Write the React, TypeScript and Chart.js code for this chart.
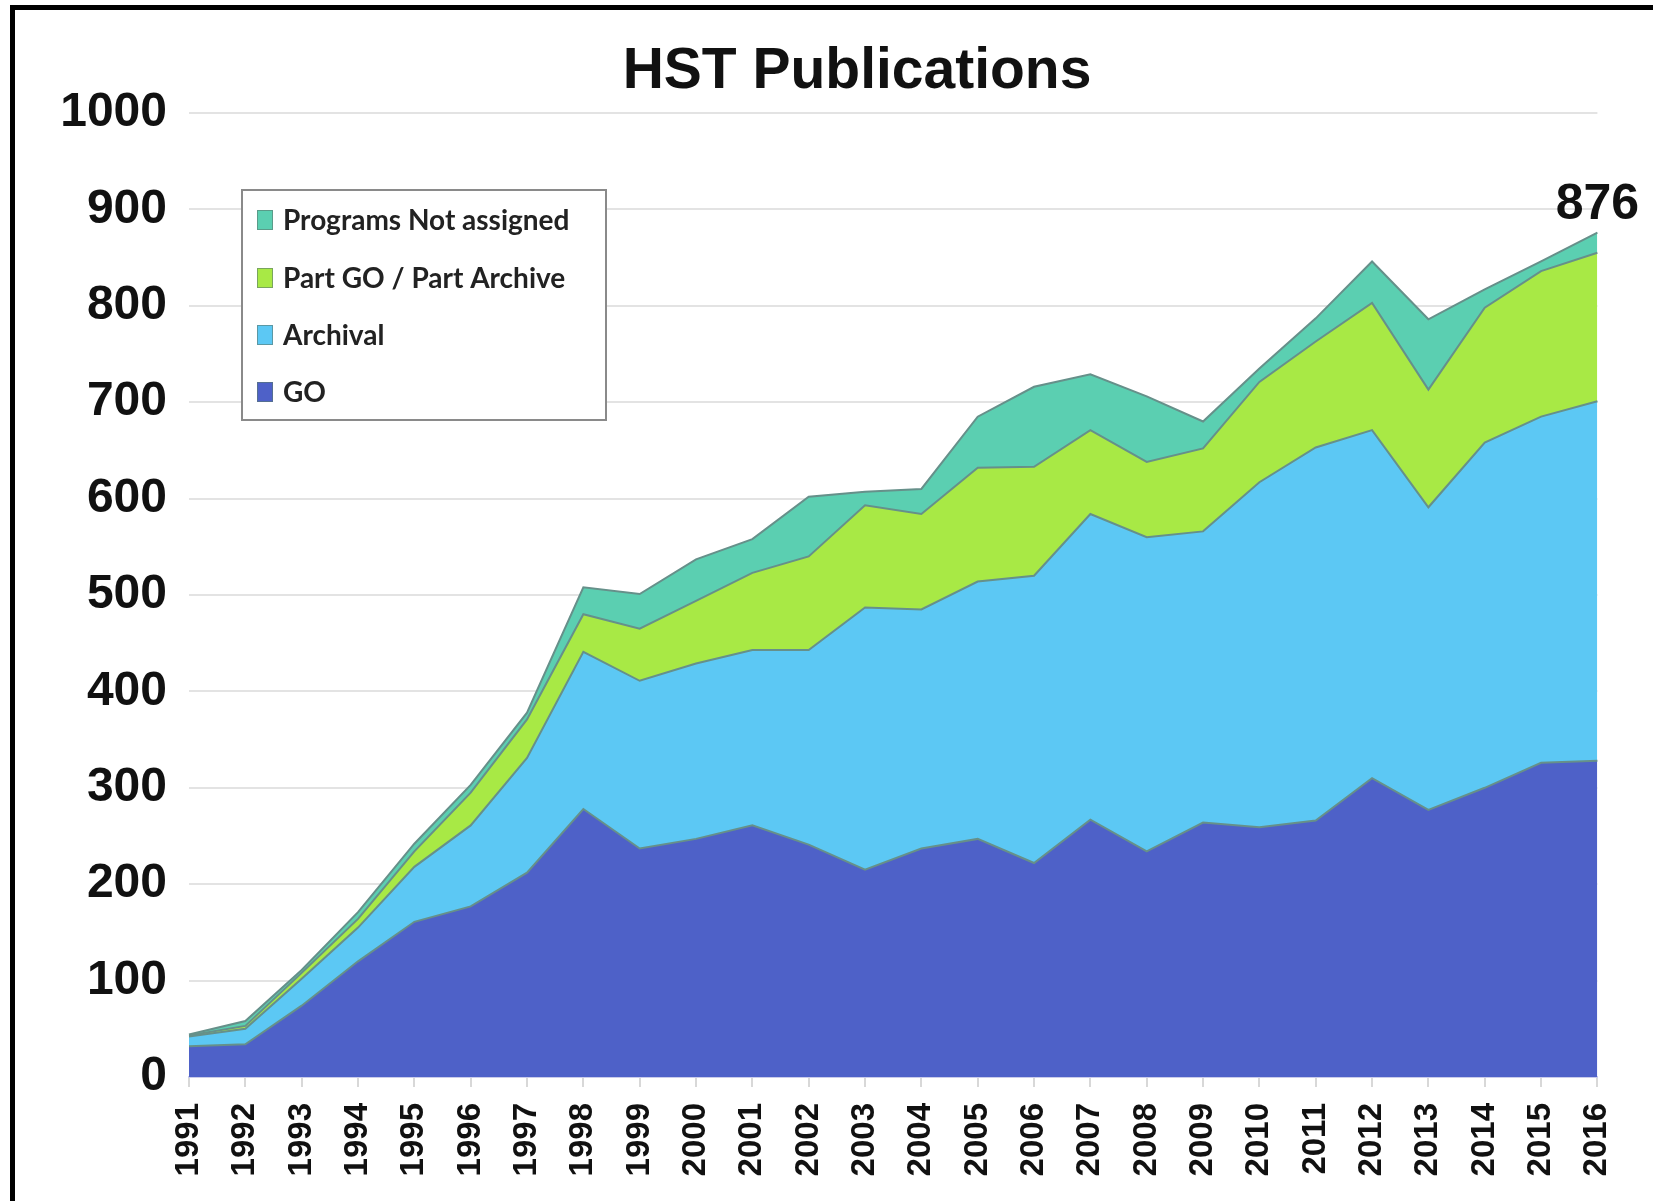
import React, { useEffect, useRef } from 'react';
import { Chart, registerables } from 'chart.js';

Chart.register(...registerables);

const YEARS = ['1991', '1992', '1993', '1994', '1995', '1996', '1997', '1998', '1999', '2000', '2001', '2002', '2003', '2004', '2005', '2006', '2007', '2008', '2009', '2010', '2011', '2012', '2013', '2014', '2015', '2016'];
const GO = [32, 34, 74, 120, 161, 177, 212, 278, 237, 247, 261, 241, 215, 237, 247, 222, 267, 234, 264, 259, 266, 310, 277, 300, 326, 328];
const ARCHIVAL = [10, 16, 28, 35, 57, 84, 119, 163, 174, 182, 182, 202, 272, 248, 267, 298, 317, 326, 302, 358, 387, 361, 314, 358, 359, 373];
const PART_GO_ARCHIVE = [1, 3, 6, 9, 16, 34, 40, 39, 54, 65, 80, 97, 106, 99, 118, 113, 87, 78, 86, 104, 110, 132, 122, 140, 151, 154];
const NOT_ASSIGNED = [1, 5, 3, 7, 8, 8, 7, 28, 36, 43, 35, 62, 14, 26, 53, 83, 58, 68, 28, 14, 24, 43, 73, 19, 10, 21];

const SERIES_LABELS = ['GO', 'Archival', 'Part GO / Part Archive', 'Programs Not assigned'];
const SERIES_COLORS = ['#4E61C8', '#5CC8F4', '#A8E945', '#5BCFB1'];
const Y_MIN = 0;
const Y_MAX = 1000;
const Y_STEP = 100;
const TITLE = 'HST Publications';

const AXIS_FONT = '"Liberation Sans", Arial, Helvetica, sans-serif';
const LEGEND_FONT = 'Lato, "Open Sans", sans-serif';
const OUTLINE = '#66908a';

const decorPlugin = {
  id: 'decor',
  beforeDraw(chart: any) {
    const ctx = chart.ctx;
    ctx.save();
    ctx.fillStyle = '#000';
    ctx.fillRect(10, 5, 5, chart.height - 5);
    ctx.fillRect(10, 5, chart.width - 10, 5);
    ctx.restore();
  },
  afterDraw(chart: any) {
    const ctx = chart.ctx;
    ctx.save();
    // Title
    ctx.fillStyle = '#111';
    ctx.font = `bold 57px ${AXIS_FONT}`;
    ctx.textAlign = 'center';
    ctx.textBaseline = 'middle';
    ctx.fillText(TITLE, 857, 72);

    // Total label at last point
    const lastIdx = chart.data.datasets.length - 1;
    const meta = chart.getDatasetMeta(lastIdx);
    const n = YEARS.length - 1;
    const pt = meta.data[n];
    const total = GO[n] + ARCHIVAL[n] + PART_GO_ARCHIVE[n] + NOT_ASSIGNED[n];
    ctx.font = `bold 50px ${AXIS_FONT}`;
    ctx.textAlign = 'center';
    ctx.textBaseline = 'alphabetic';
    ctx.fillText(String(total), pt.x, pt.y - 14);

    // Legend box
    const bx = 242, by = 190, bw = 364, bh = 230;
    ctx.fillStyle = '#fff';
    ctx.fillRect(bx, by, bw, bh);
    ctx.strokeStyle = '#8a8a8a';
    ctx.lineWidth = 2;
    ctx.strokeRect(bx, by, bw, bh);
    const rows = [220, 278, 335, 392];
    const order = [3, 2, 1, 0];
    ctx.font = `bold 28px ${LEGEND_FONT}`;
    ctx.textAlign = 'left';
    ctx.textBaseline = 'middle';
    order.forEach((di, i) => {
      const ds = chart.data.datasets[di];
      const y = rows[i];
      ctx.fillStyle = ds.backgroundColor;
      ctx.fillRect(257, y - 10, 16, 20);
      ctx.strokeStyle = 'rgba(90,120,110,0.6)';
      ctx.lineWidth = 1;
      ctx.strokeRect(257.5, y - 9.5, 15, 19);
      ctx.fillStyle = '#222';
      ctx.fillText(ds.label, 283, y + 1);
    });
    ctx.restore();
  },
};

export default function App() {
  const ref = useRef<HTMLCanvasElement | null>(null);

  useEffect(() => {
    if (!ref.current) return;
    const series = [GO, ARCHIVAL, PART_GO_ARCHIVE, NOT_ASSIGNED];
    const chart = new Chart(ref.current, {
      type: 'line',
      data: {
        labels: YEARS,
        datasets: series.map((values, i) => ({
          label: SERIES_LABELS[i],
          data: values,
          backgroundColor: SERIES_COLORS[i],
          borderColor: OUTLINE,
          borderWidth: 2,
          pointRadius: 0,
          tension: 0,
          fill: i === 0 ? 'origin' : '-1',
        })),
      },
      options: {
        responsive: false,
        animation: false,
        devicePixelRatio: 1,
        layout: { padding: { left: 0, top: 113, right: 53, bottom: 0 } },
        plugins: {
          legend: { display: false },
          title: { display: false },
          tooltip: { enabled: false },
        },
        scales: {
          x: {
            afterFit: (scale: any) => {
              scale.height = 124;
            },
            grid: {
              display: true,
              drawOnChartArea: false,
              drawTicks: true,
              tickLength: 10,
              color: '#d8d8d8',
              lineWidth: 2,
            },
            border: { display: true, color: '#c9cbea', width: 2 },
            ticks: {
              autoSkip: false,
              minRotation: 90,
              maxRotation: 90,
              padding: 16,
              color: '#111',
              font: { family: AXIS_FONT, size: 33, weight: 'bold' },
            },
          },
          y: {
            stacked: true,
            min: Y_MIN,
            max: Y_MAX,
            afterFit: (scale: any) => {
              scale.width = 189;
            },
            grid: {
              color: '#e3e3e3',
              lineWidth: 2,
              drawTicks: false,
            },
            border: { display: false },
            ticks: {
              stepSize: Y_STEP,
              padding: 22,
              color: '#111',
              font: { family: AXIS_FONT, size: 48, weight: 'bold' },
              callback: (value: any) => String(value),
            },
          },
        },
      },
      plugins: [decorPlugin],
    });
    return () => chart.destroy();
  }, []);

  return (
    <div style={{ position: 'fixed', left: 0, top: 0, width: 1653, height: 1201, background: '#fff' }}>
      <canvas ref={ref} width={1653} height={1201} style={{ width: 1653, height: 1201, display: 'block' }} />
    </div>
  );
}
